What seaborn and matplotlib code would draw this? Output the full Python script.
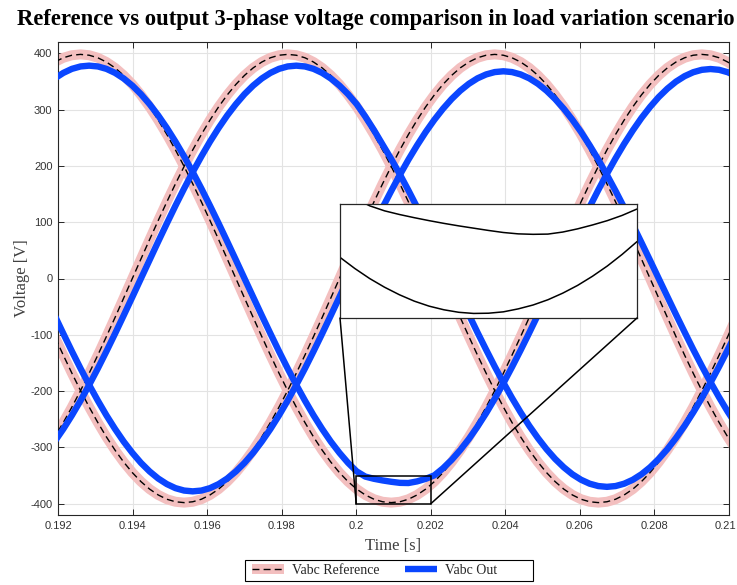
import matplotlib
matplotlib.use("Agg")
import matplotlib.pyplot as plt
import matplotlib.transforms as mtransforms
import seaborn as sns
from matplotlib.lines import Line2D
from matplotlib.legend_handler import HandlerTuple
from matplotlib.patches import Rectangle, ConnectionPatch

# ---------------- data ----------------
time_s = [0.191679, 0.191910, 0.192142, 0.192373, 0.192605, 0.192836, 0.193068,
          0.193299, 0.193531, 0.193762, 0.193994, 0.194225, 0.194457, 0.194688,
          0.194920, 0.195151, 0.195383, 0.195614, 0.195846, 0.196077, 0.196309,
          0.196540, 0.196772, 0.197003, 0.197235, 0.197466, 0.197698, 0.197929,
          0.198161, 0.198392, 0.198624, 0.198855, 0.199087, 0.199318, 0.199550,
          0.199781, 0.200013, 0.200244, 0.200476, 0.200707, 0.200939, 0.201170,
          0.201401, 0.201633, 0.201864, 0.202096, 0.202327, 0.202559, 0.202790,
          0.203022, 0.203253, 0.203485, 0.203716, 0.203948, 0.204179, 0.204411,
          0.204642, 0.204874, 0.205105, 0.205336, 0.205568, 0.205799, 0.206031,
          0.206262, 0.206494, 0.206725, 0.206957, 0.207188, 0.207420, 0.207651,
          0.207883, 0.208114, 0.208346, 0.208577, 0.208809, 0.209040, 0.209272,
          0.209503, 0.209735, 0.209966, 0.210198]

ref_a = [-304.9, -281.4, -255.8, -228.3, -199.0, -168.2, -136.1, -103.0, -69.1, -34.7,
         0.0, 34.7, 69.1, 103.0, 136.1, 168.2, 199.0, 228.3, 255.8, 281.4,
         304.9, 326.0, 344.7, 360.7, 374.0, 384.4, 392.0, 396.5,
         398.0, 396.5, 392.0, 384.4, 374.0, 360.7, 344.7, 326.0, 304.9, 281.4,
         255.8, 228.3, 199.0, 168.2, 136.1, 103.0, 69.1, 34.7, 0.0, -34.7,
         -69.1, -103.0, -136.1, -168.2, -199.0, -228.3, -255.8, -281.4, -304.9, -326.0,
         -344.7, -360.7, -374.0, -384.4, -392.0, -396.5, -398.0, -396.5, -392.0, -384.4,
         -374.0, -360.7, -344.7, -326.0, -304.9, -281.4, -255.8, -228.3, -199.0, -168.2,
         -136.1, -103.0, -69.1]
ref_b = [-69.1, -103.0, -136.1, -168.2, -199.0, -228.3, -255.8, -281.4, -304.9, -326.0,
         -344.7, -360.7, -374.0, -384.4, -392.0, -396.5, -398.0, -396.5, -392.0, -384.4,
         -374.0, -360.7, -344.7, -326.0, -304.9, -281.4, -255.8, -228.3, -199.0, -168.2,
         -136.1, -103.0, -69.1, -34.7, 0.0, 34.7, 69.1, 103.0, 136.1, 168.2,
         199.0, 228.3, 255.8, 281.4, 304.9, 326.0, 344.7, 360.7, 374.0, 384.4,
         392.0, 396.5,
         398.0, 396.5, 392.0, 384.4, 374.0, 360.7, 344.7, 326.0, 304.9, 281.4,
         255.8, 228.3, 199.0, 168.2, 136.1, 103.0, 69.1, 34.7, 0.0, -34.7,
         -69.1, -103.0, -136.1, -168.2, -199.0, -228.3, -255.8, -281.4, -304.9]
ref_c = [374.0, 384.4, 392.0, 396.5,
         398.0, 396.5, 392.0, 384.4, 374.0, 360.7, 344.7, 326.0, 304.9, 281.4,
         255.8, 228.3, 199.0, 168.2, 136.1, 103.0, 69.1, 34.7, 0.0, -34.7,
         -69.1, -103.0, -136.1, -168.2, -199.0, -228.3, -255.8, -281.4, -304.9, -326.0,
         -344.7, -360.7, -374.0, -384.4, -392.0, -396.5, -398.0, -396.5, -392.0, -384.4,
         -374.0, -360.7, -344.7, -326.0, -304.9, -281.4, -255.8, -228.3, -199.0, -168.2,
         -136.1, -103.0, -69.1, -34.7, 0.0, 34.7, 69.1, 103.0, 136.1, 168.2,
         199.0, 228.3, 255.8, 281.4, 304.9, 326.0, 344.7, 360.7, 374.0, 384.4,
         392.0, 396.5,
         398.0, 396.5, 392.0, 384.4, 374.0]

out_a = [-309.6, -289.6, -267.3, -243.0, -216.8, -189.0, -159.8, -129.3, -97.8, -65.6,
         -32.9, 0.0, 32.9, 65.6, 97.8, 129.3, 159.8, 189.0, 216.8, 243.0,
         267.3, 289.6, 309.6, 327.4, 342.6, 355.2, 365.1, 372.3, 376.6,
         378.0, 376.6, 372.3, 365.1, 355.2, 342.6, 327.4, 309.6,
         287.5, 263.5,
         237.8, 212.2, 185.0, 156.4, 126.5, 95.8, 64.3, 32.2, 0.0, -32.2,
         -64.3, -95.8, -126.5, -156.4, -185.0, -212.2, -237.8, -261.6, -283.4, -303.1,
         -320.4, -335.3, -347.7, -357.4, -364.4, -368.6, -370.0, -368.6, -364.4, -357.4,
         -347.7, -335.3, -320.4, -303.1, -283.4, -261.6, -237.8, -212.2, -185.0, -156.4,
         -126.5, -95.8]
out_b = [-32.9, -65.6, -97.8, -129.3, -159.8, -189.0, -216.8, -243.0, -267.3, -289.6,
         -309.6, -327.4, -342.6, -355.2, -365.1, -372.3, -376.6, -378.0, -376.6, -372.3,
         -365.1, -355.2, -342.6, -327.4, -309.6, -289.6, -267.3, -243.0, -216.8, -189.0,
         -159.8, -129.3, -97.8, -65.6, -32.9, 0.0, 32.9,
         65.0, 96.0,
         125.9, 155.5, 184.0, 211.1, 236.5, 260.2, 281.9, 301.4, 318.7, 333.5,
         345.8, 355.5, 362.4, 366.6,
         368.0, 366.6, 362.4, 355.5, 345.8, 333.5, 318.7, 301.4, 281.9, 260.2,
         236.5, 211.1, 184.0, 155.5, 125.9, 95.2, 63.9, 32.1, 0.0, -32.1,
         -63.9, -95.2, -125.9, -155.5, -184.0, -211.1, -236.5, -260.2]
out_c = [342.6, 355.2, 365.1, 372.3, 376.6,
         378.0, 376.6, 372.3, 365.1, 355.2, 342.6, 327.4, 309.6, 289.6, 267.3,
         243.0, 216.8, 189.0, 159.8, 129.3, 97.8, 65.6, 32.9, 0.0, -32.9,
         -65.6, -97.8, -129.3, -159.8, -189.0, -216.8, -243.0, -267.3, -289.6, -309.6,
         -327.4, -342.6,
         -351.8, -355.7, -358.6, -361.0, -362.9, -363.2, -360.3, -355.8,
         -349.6, -337.1, -322.2, -304.7, -285.0, -263.0, -239.1, -213.4, -186.0, -157.2,
         -127.2, -96.3, -64.6, -32.4, 0.0, 32.4, 64.6, 96.3, 127.2, 157.2,
         186.0, 213.4, 239.1, 263.0, 285.0, 304.7, 322.2, 337.1, 349.6, 359.3,
         366.3, 370.6, 372.0, 370.6, 366.3, 359.3]

# zoomed window (0.200 s .. 0.202 s, -400 .. -350 V)
inset_time = [0.2000, 0.2001, 0.2002, 0.2003, 0.2004, 0.2005, 0.2006, 0.2007,
              0.2008, 0.2009, 0.2010, 0.2011, 0.2012, 0.2013, 0.2014, 0.2015,
              0.2016, 0.2017, 0.2018, 0.2019, 0.2020]
inset_ref = [-373.4, -378.3, -382.7, -386.5, -389.8, -392.6, -394.8, -396.4, -397.5,
             -398.0, -397.9, -397.3, -396.0, -394.3, -392.0, -389.1, -385.7, -381.7,
             -377.2, -372.1, -366.5]
inset_out = [-343.0, -347.5, -350.8, -353.0, -354.6, -356.0, -357.3, -358.5, -359.6,
             -360.6, -361.6, -362.5, -363.1, -363.3, -363.2, -362.3, -360.9, -359.2,
             -357.3, -355.0, -352.2]

x_ticks = [0.192, 0.194, 0.196, 0.198, 0.200, 0.202, 0.204, 0.206, 0.208, 0.210]
x_tick_labels = ["0.192", "0.194", "0.196", "0.198", "0.2", "0.202", "0.204",
                 "0.206", "0.208", "0.21"]
y_ticks = [-400, -300, -200, -100, 0, 100, 200, 300, 400]
y_tick_labels = ["-400", "-300", "-200", "-100", "0", "100", "200", "300", "400"]

title_text = "Reference vs output 3-phase voltage comparison in load variation scenario"
legend_labels = ["Vabc Reference", "Vabc Out"]

# ---------------- styling ----------------
sns.set_theme(style="ticks")
plt.rcParams["font.family"] = ["Liberation Sans", "DejaVu Sans"]
SERIF = ["Liberation Serif", "DejaVu Serif"]

PINK = "#F3BFBF"
BLUE = "#0A46FF"
DASH = (0, (5, 3))

fig = plt.figure(figsize=(7.37, 5.85), dpi=100)
fig.patch.set_facecolor("white")
ax = fig.add_axes([58 / 737, 70 / 585, 671 / 737, 473 / 585])
ax.set_facecolor("white")

for series in (ref_a, ref_b, ref_c):
    sns.lineplot(x=time_s, y=series, ax=ax, color=PINK, lw=7.2,
                 solid_capstyle="butt", zorder=2)
for series in (ref_a, ref_b, ref_c):
    sns.lineplot(x=time_s, y=series, ax=ax, color="black", lw=1.0, zorder=3)
    ax.lines[-1].set_linestyle(DASH)
for series in (out_a, out_b, out_c):
    sns.lineplot(x=time_s, y=series, ax=ax, color=BLUE, lw=4.6,
                 solid_capstyle="butt", zorder=4)

ax.set_xlim(0.192, 0.210)
ax.set_ylim(-420, 420)
ax.set_xticks(x_ticks)
ax.set_xticklabels(x_tick_labels)
ax.set_yticks(y_ticks)
ax.set_yticklabels(y_tick_labels)
ax.grid(True, color="#e3e3e3", lw=0.8)
ax.set_axisbelow(True)
ax.tick_params(direction="in", length=4, width=0.7, top=True, right=True,
               labelsize=8, labelcolor="#333333", color="#262626", pad=4)
ax.tick_params(axis="x", pad=4)
for sp in ax.spines.values():
    sp.set_visible(True)
    sp.set_color("#262626")
    sp.set_linewidth(0.8)

# keep the last x tick label inside the canvas
last_lbl = ax.get_xticklabels()[-1]
last_lbl.set_transform(last_lbl.get_transform() +
                       mtransforms.ScaledTranslation(-4 / 100, 0, fig.dpi_scale_trans))

ax.set_xlabel("Time [s]", family=SERIF, fontsize=12, color="#404040", labelpad=5)
ax.set_ylabel("Voltage [V]", family=SERIF, fontsize=12, color="#404040", labelpad=0)

fig.text(376 / 737, 1 - 19 / 585, title_text, ha="center", va="center",
         fontsize=16.3, fontweight="bold", family=SERIF, color="black")

# zoom box + connectors
ax.add_patch(Rectangle((0.200, -400), 0.002, 50, fill=False, ec="black",
                       lw=1.1, zorder=6))

axins = fig.add_axes([340 / 737, (585 - 318) / 585, 297 / 737, 114 / 585])
axins.set_facecolor("white")
sns.lineplot(x=inset_time, y=inset_ref, ax=axins, color="black", lw=1.1)
sns.lineplot(x=inset_time, y=inset_out, ax=axins, color="black", lw=1.1)
axins.set_xlim(0.200, 0.202)
axins.set_ylim(-400, -350)
axins.set_xticks([])
axins.set_yticks([])
axins.set_xlabel("")
axins.set_ylabel("")
for sp in axins.spines.values():
    sp.set_visible(True)
    sp.set_color("#262626")
    sp.set_linewidth(0.9)

for xa, xb in ((0, 0.200), (1, 0.202)):
    con = ConnectionPatch(xyA=(xa, 0), coordsA=axins.transAxes,
                          xyB=(xb, -400), coordsB=ax.transData,
                          color="black", lw=1.1, zorder=7)
    fig.add_artist(con)

# legend (MATLAB-like box with extra room on the right)
h_ref = (Line2D([], [], color=PINK, lw=7.2, solid_capstyle="butt"),
         Line2D([], [], color="black", lw=1.0, ls=DASH))
h_out = Line2D([], [], color=BLUE, lw=4.6, solid_capstyle="butt")
leg = fig.legend([h_ref, h_out], legend_labels, loc="center left",
                 bbox_to_anchor=(252 / 737, 1 - 570.5 / 585), ncol=2,
                 frameon=False, prop={"family": SERIF, "size": 10},
                 handlelength=2.3, columnspacing=1.9, borderpad=0.0,
                 handletextpad=0.55, borderaxespad=0.0,
                 handler_map={tuple: HandlerTuple(ndivide=1)})
for t in leg.get_texts():
    t.set_color("#262626")
fig.add_artist(Rectangle((245 / 737, 1 - 581 / 585), 288 / 737, 21 / 585,
                         transform=fig.transFigure, fill=False,
                         ec="black", lw=0.8))

fig.savefig("out.png", dpi=100, facecolor="white")
